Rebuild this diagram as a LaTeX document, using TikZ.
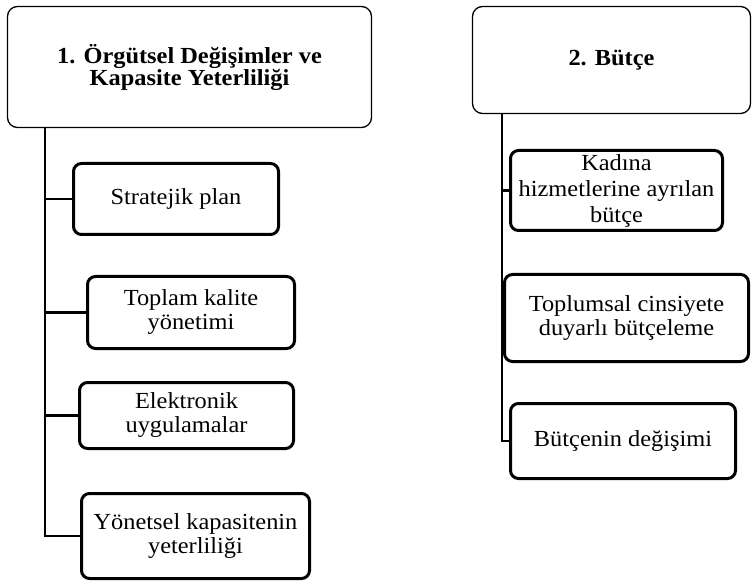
\documentclass[tikz,border=0pt]{standalone}
\usepackage{fontspec}
\setmainfont{Liberation Serif}[FakeStretch=1.06]
\usetikzlibrary{positioning}

\begin{document}
\begin{tikzpicture}[x=1pt, y=-1pt,
    header/.style={draw, line width=1.3pt, rounded corners=10pt, align=center,
      inner sep=0pt, font=\bfseries\fontsize{23}{22}\selectfont},
    item/.style={draw, line width=3pt, rounded corners=8pt, align=center,
      inner sep=0pt, font=\fontsize{23}{24}\selectfont},
    spine/.style={line width=2.2pt}]
  \useasboundingbox (0,0) rectangle (752,585);

  % draws the first group
  \node[header, minimum width=364pt, minimum height=121pt] (hdrL) at (189.5,67)
    {1. Örgütsel Değişimler ve\\Kapasite Yeterliliği};
  \node[item, minimum width=205pt, minimum height=71pt] (org1) at (176,199) {Stratejik plan};
  \node[item, minimum width=207pt, minimum height=72pt] (org2) at (191,312.5) {Toplam kalite\\yönetimi};
  \node[item, minimum width=214pt, minimum height=66pt] (org3) at (186.5,415.5) {Elektronik\\uygulamalar};
  \node[item, minimum width=228pt, minimum height=85pt] (org4) at (195.5,536) {Yönetsel kapasitenin\\yeterliliği};

  \coordinate (lspine) at (45,0);
  \draw[spine] (lspine |- hdrL.south) |- (org4.west);
  \foreach \n in {org1, org2, org3}
    \draw[spine] (lspine |- \n.west) -- (\n.west);

  % draws the second group
  \node[header, minimum width=278pt, minimum height=107pt] (hdrR) at (611.5,60) {2. Bütçe};
  \node[item, minimum width=212pt, minimum height=80pt, font=\fontsize{23}{26}\selectfont]
    (bud1) at (616.5,190.5) {Kadına\\hizmetlerine ayrılan\\bütçe};
  \node[item, minimum width=244pt, minimum height=87pt] (bud2) at (626.5,318)
    {Toplumsal cinsiyete\\duyarlı bütçeleme};
  \node[item, minimum width=225pt, minimum height=75pt] (bud3) at (623,441) {Bütçenin değişimi};

  \coordinate (rspine) at (502,0);
  \draw[spine] (rspine |- hdrR.south) |- (bud3.west);
  \foreach \n in {bud1, bud2}
    \draw[spine] (rspine |- \n.west) -- (\n.west);
\end{tikzpicture}
\end{document}
